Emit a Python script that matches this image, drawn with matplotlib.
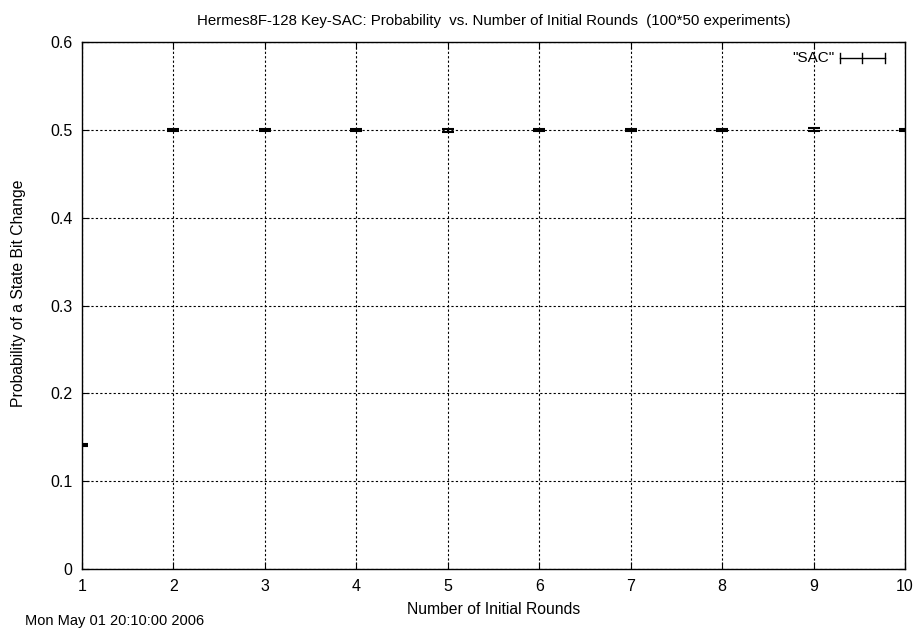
import numpy as np
import matplotlib.pyplot as plt
from matplotlib.lines import Line2D

plt.rcParams['font.family'] = ['Liberation Sans', 'DejaVu Sans']

# data
rounds = [1, 2, 3, 4, 5, 6, 7, 8, 9, 10]
prob = [0.141, 0.5, 0.4998, 0.5, 0.4995, 0.5, 0.5, 0.5, 0.5003, 0.5]
err = [0.001, 0.0012, 0.0012, 0.0015, 0.0018, 0.0012, 0.0012, 0.0012, 0.0015, 0.0015]

fig = plt.figure(figsize=(9.2, 6.29), dpi=100)
ax = fig.add_axes([82/920, 1-569/629, (905-82)/920, (569-42)/629])

ax.errorbar(rounds, prob, yerr=err, fmt='none', ecolor='black',
            elinewidth=1.2, capsize=4, capthick=1.5, clip_on=True)

ax.set_xlim(1, 10)
ax.set_ylim(0, 0.6)
ax.set_xticks(rounds)
ax.set_yticks([0, 0.1, 0.2, 0.3, 0.4, 0.5, 0.6])
ax.set_yticklabels(['0', '0.1', '0.2', '0.3', '0.4', '0.5', '0.6'])
ax.grid(True, color='black', linestyle=(0, (2, 2)), linewidth=0.8)
ax.tick_params(direction='in', top=True, right=True, length=5,
               labelsize=11.5, pad=7)
for s in ax.spines.values():
    s.set_linewidth(1.0)

ax.set_title('Hermes8F-128 Key-SAC: Probability  vs. Number of Initial Rounds  (100*50 experiments)',
             fontsize=10.8, pad=12)
ax.set_xlabel('Number of Initial Rounds', fontsize=11.3, labelpad=6)
ax.set_ylabel('Probability of a State Bit Change', fontsize=11.3)
ax.yaxis.set_label_coords(-(82-26)/823, (569-293)/527)

# legend like gnuplot: label then errorbar sample
fig.text(835/920, 1-58/629, '"SAC"', ha='right', va='center', fontsize=11)
ax.add_line(Line2D([840/920, 885/920], [1-58/629]*2, transform=fig.transFigure,
                   color='black', linewidth=1))
for xp in [840, 862, 885]:
    ax.add_line(Line2D([xp/920]*2, [1-53/629, 1-63/629], transform=fig.transFigure,
                       color='black', linewidth=1))

fig.text(25/920, 1/629, 'Mon May 01 20:10:00 2006', ha='left', va='bottom', fontsize=10.5)

fig.savefig('out.png', dpi=100)
